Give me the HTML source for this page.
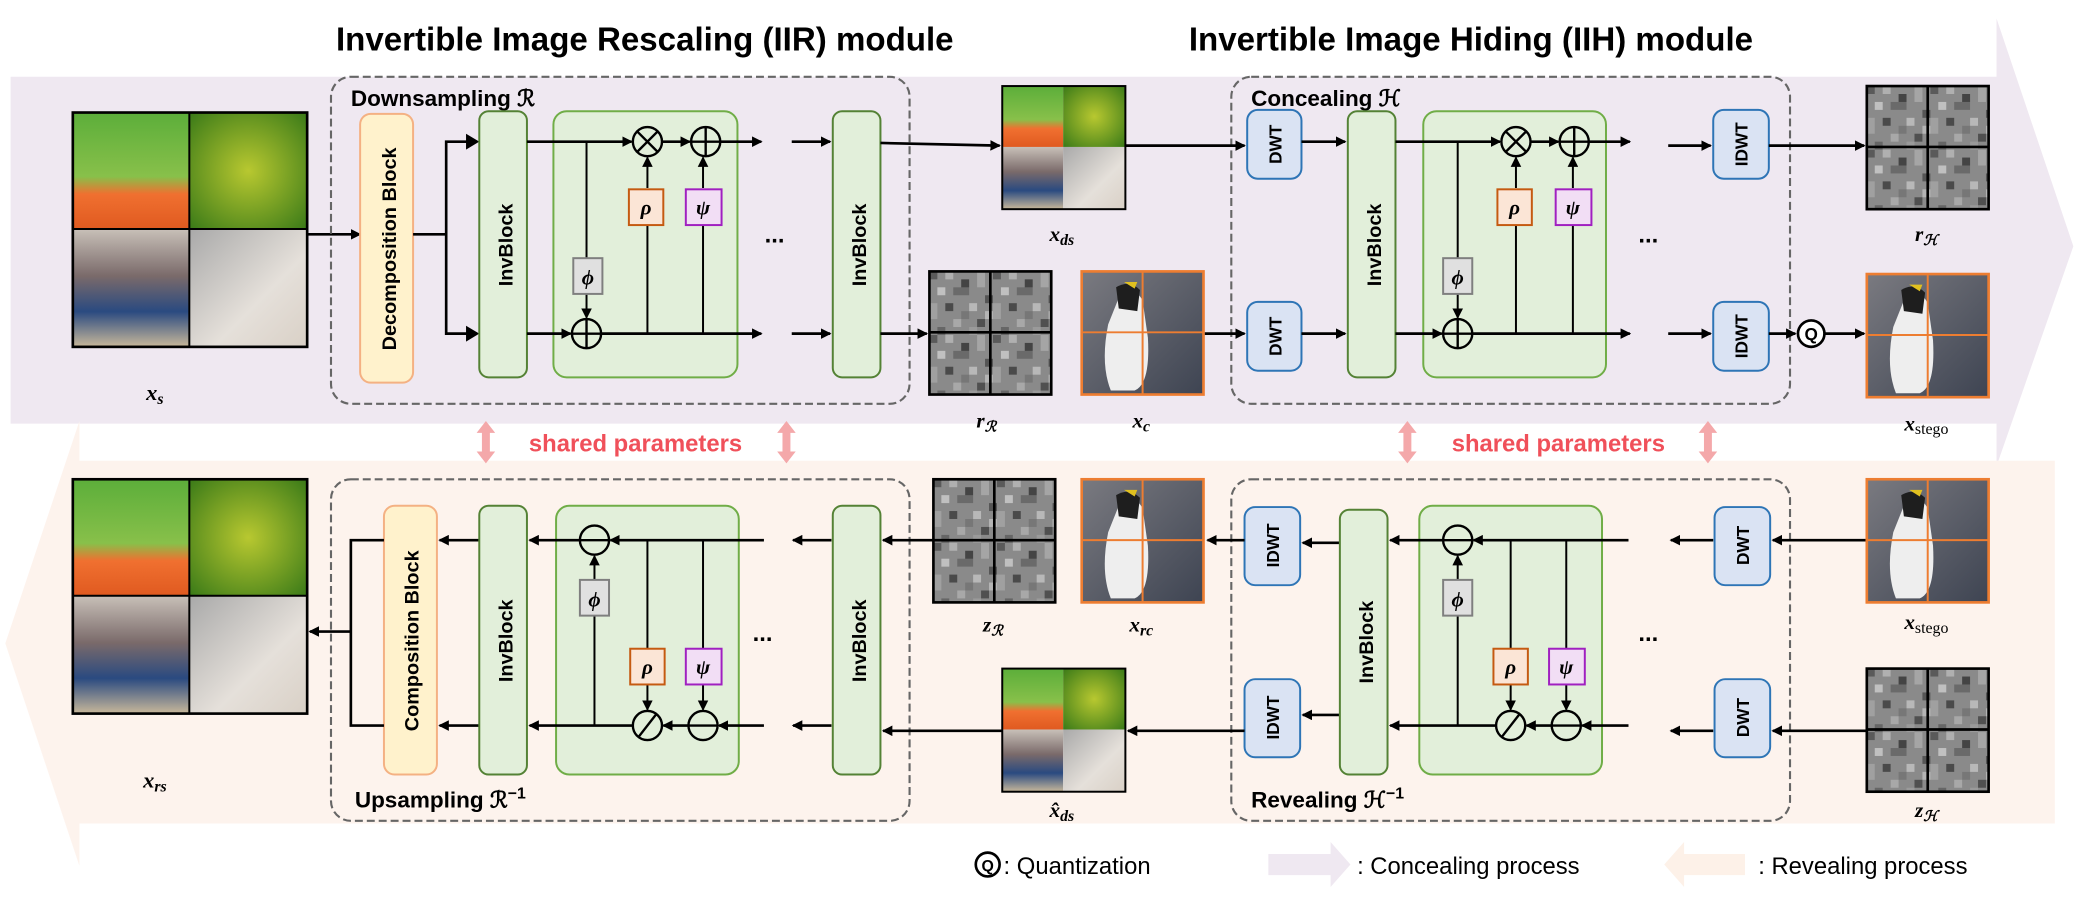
<!DOCTYPE html>
<html><head><meta charset="utf-8"><style>
html,body{margin:0;padding:0;background:#fff}
svg{display:block}
text{font-family:"Liberation Sans Narrow","Liberation Sans",sans-serif}
.t{font-weight:bold}
.v{font-family:"Liberation Sans",sans-serif;font-weight:bold}
.m{font-family:"Liberation Serif",serif;font-style:italic;font-weight:bold}
</style></head><body>
<svg width="2076" height="902" viewBox="0 0 1568 681.3" preserveAspectRatio="none" xmlns="http://www.w3.org/2000/svg">
<defs>
<marker id="a" markerWidth="8" markerHeight="8" refX="7" refY="4" orient="auto" markerUnits="userSpaceOnUse"><path d="M0,0 L8,4 L0,8 z" fill="#000"/></marker>
<marker id="a2" markerWidth="10" markerHeight="10" refX="9" refY="5" orient="auto" markerUnits="userSpaceOnUse"><path d="M0,0 L10,5 L0,10 z" fill="#000"/></marker>
<pattern id="nz" width="48" height="48" patternUnits="userSpaceOnUse">
<rect width="48" height="48" fill="#8a8a8a"/>
<rect x="0" y="0" width="6" height="6" fill="#5a5a5a"/><rect x="12" y="0" width="6" height="6" fill="#b0b0b0"/><rect x="24" y="6" width="6" height="6" fill="#444"/><rect x="36" y="0" width="6" height="12" fill="#a5a5a5"/>
<rect x="6" y="12" width="6" height="6" fill="#c0c0c0"/><rect x="18" y="12" width="12" height="6" fill="#6a6a6a"/><rect x="42" y="18" width="6" height="6" fill="#555"/><rect x="0" y="24" width="6" height="12" fill="#a0a0a0"/>
<rect x="12" y="24" width="6" height="6" fill="#4a4a4a"/><rect x="30" y="24" width="6" height="6" fill="#b8b8b8"/><rect x="18" y="36" width="6" height="6" fill="#a8a8a8"/><rect x="36" y="36" width="6" height="6" fill="#505050"/>
<rect x="6" y="42" width="6" height="6" fill="#666"/><rect x="30" y="42" width="6" height="6" fill="#9a9a9a"/><rect x="42" y="30" width="6" height="6" fill="#b5b5b5"/><rect x="24" y="30" width="6" height="6" fill="#777"/>
</pattern>
<linearGradient id="pl" x1="0" y1="0" x2="0" y2="1"><stop offset="0" stop-color="#5cae3a"/><stop offset="0.55" stop-color="#88c04a"/><stop offset="0.7" stop-color="#f07030"/><stop offset="1" stop-color="#e05a20"/></linearGradient>
<radialGradient id="lm" cx="0.5" cy="0.5" r="0.7"><stop offset="0" stop-color="#b8c830"/><stop offset="1" stop-color="#3a7a18"/></radialGradient>
<linearGradient id="pp" x1="0" y1="0" x2="0" y2="1"><stop offset="0" stop-color="#c8c0b8"/><stop offset="0.4" stop-color="#7a6a6a"/><stop offset="0.7" stop-color="#2a4a80"/><stop offset="1" stop-color="#c8b89a"/></linearGradient>
<linearGradient id="wf" x1="0" y1="0" x2="1" y2="1"><stop offset="0" stop-color="#a9a9a9"/><stop offset="0.6" stop-color="#e5e0da"/><stop offset="1" stop-color="#d9d0c6"/></linearGradient>
<linearGradient id="rk" x1="0" y1="0" x2="1" y2="1"><stop offset="0" stop-color="#7a7a80"/><stop offset="1" stop-color="#3e4452"/></linearGradient>
<g id="col">
<rect x="0" y="0" width="88" height="88" fill="url(#pl)"/><rect x="88" y="0" width="89" height="88" fill="url(#lm)"/>
<rect x="0" y="88" width="88" height="89" fill="url(#pp)"/><rect x="88" y="88" width="89" height="89" fill="url(#wf)"/>
<line x1="88" y1="0" x2="88" y2="177" stroke="#000" stroke-width="1.5"/><line x1="0" y1="88" x2="177" y2="88" stroke="#000" stroke-width="1.5"/>
<rect x="0" y="0" width="177" height="177" fill="none" stroke="#000" stroke-width="2"/></g>
<g id="scol">
<rect x="0" y="0" width="46" height="46" fill="url(#pl)"/><rect x="46" y="0" width="47" height="46" fill="url(#lm)"/>
<rect x="0" y="46" width="46" height="47" fill="url(#pp)"/><rect x="46" y="46" width="47" height="47" fill="url(#wf)"/>
<rect x="0" y="0" width="93" height="93" fill="none" stroke="#000" stroke-width="1.5"/></g>
<g id="noise"><rect x="0" y="0" width="92" height="93" fill="url(#nz)"/>
<line x1="46" y1="0" x2="46" y2="93" stroke="#000" stroke-width="2"/><line x1="0" y1="46" x2="92" y2="46" stroke="#000" stroke-width="2"/>
<rect x="0" y="0" width="92" height="93" fill="none" stroke="#000" stroke-width="2"/></g>
<g id="peng"><rect x="0" y="0" width="92" height="93" fill="url(#rk)"/>
<path d="M28,20 Q40,10 46,22 L50,50 Q52,85 40,90 L22,90 Q14,70 20,40 Z" fill="#eeeeee"/><path d="M26,12 Q36,6 44,14 L42,30 L28,28 Z" fill="#1e1e1e"/><path d="M32,8 l10,0 l-2,5 z" fill="#e0c020"/>
<line x1="46" y1="0" x2="46" y2="93" stroke="#ed7d31" stroke-width="1.5"/><line x1="0" y1="46" x2="92" y2="46" stroke="#ed7d31" stroke-width="1.5"/>
<rect x="0" y="0" width="92" height="93" fill="none" stroke="#ed7d31" stroke-width="2"/></g>
</defs>

<!-- bands -->
<path d="M8,58 L1508,58 L1508,14 L1566,186 L1508,352 L1508,320 L8,320 Z" fill="#efe8f1"/>
<path d="M1552,348 L60,348 L60,318 L4,486 L60,654 L60,622 L1552,622 Z" fill="#fdf3ed"/>

<text x="487" y="38" class="t" font-size="25" text-anchor="middle">Invertible Image Rescaling (IIR) module</text>
<text x="1111" y="38" class="t" font-size="25" text-anchor="middle">Invertible Image Hiding (IIH) module</text>

<!-- ===== TOP IIR ===== -->
<use href="#col" x="55" y="85"/>
<text x="117" y="302" class="m" font-size="17" text-anchor="middle">x<tspan font-size="12" dy="3">s</tspan></text>
<line x1="232" y1="177" x2="272" y2="177" stroke="#000" stroke-width="2" marker-end="url(#a)"/>
<rect x="250" y="58" width="437" height="247" rx="15" fill="none" stroke="#666" stroke-width="1.6" stroke-dasharray="6,3"/>
<text x="265" y="80" class="t" font-size="17">Downsampling ℛ</text>
<rect x="272" y="86" width="40" height="203" rx="8" fill="#fff2cc" stroke="#f4b183" stroke-width="1.5"/>
<text transform="translate(299,188) rotate(-90)" class="v" font-size="15" text-anchor="middle">Decomposition Block</text>
<path d="M312,177 H337 V107 H360 M337,177 V252 H360" fill="none" stroke="#000" stroke-width="2"/>
<path d="M352,101 l10,6 l-10,6z M352,246 l10,6 l-10,6z" fill="#000"/>
<rect x="362" y="84" width="36" height="201" rx="7" fill="#e2efda" stroke="#548235" stroke-width="1.5"/>
<text transform="translate(387,185) rotate(-90)" class="v" font-size="15" text-anchor="middle">InvBlock</text>
<rect x="418" y="84" width="139" height="201" rx="10" fill="#e2efda" stroke="#70ad47" stroke-width="1.5"/>
<g stroke="#000" stroke-width="2" fill="none">
<line x1="398" y1="107" x2="477" y2="107" marker-end="url(#a)"/>
<line x1="500" y1="107" x2="521" y2="107" marker-end="url(#a)"/>
<line x1="544" y1="107" x2="575" y2="107" marker-end="url(#a)"/>
<line x1="398" y1="252" x2="431" y2="252" marker-end="url(#a)"/>
<line x1="454" y1="252" x2="575" y2="252" marker-end="url(#a)"/>
<line x1="443" y1="107" x2="443" y2="195" stroke-width="1.5"/>
<line x1="443" y1="222" x2="443" y2="240" stroke-width="1.5" marker-end="url(#a)"/>
<line x1="489" y1="252" x2="489" y2="170" stroke-width="1.5"/>
<line x1="489" y1="142" x2="489" y2="119" stroke-width="1.5" marker-end="url(#a)"/>
<line x1="531" y1="252" x2="531" y2="170" stroke-width="1.5"/>
<line x1="531" y1="142" x2="531" y2="119" stroke-width="1.5" marker-end="url(#a)"/>
<circle cx="489" cy="107" r="11" stroke-width="1.8"/><path d="M481,99 L497,115 M497,99 L481,115" stroke-width="1.8"/>
<circle cx="533" cy="107" r="11" stroke-width="1.8"/><path d="M522,107 H544 M533,96 V118" stroke-width="1.8"/>
<circle cx="443" cy="252" r="11" stroke-width="1.8"/><path d="M432,252 H454 M443,241 V263" stroke-width="1.8"/>
</g>
<rect x="433" y="195" width="22" height="27" fill="#e0e0e0" stroke="#7f7f7f" stroke-width="1.5"/><text x="444" y="215" class="m" font-size="16" text-anchor="middle" font-weight="normal">ϕ</text>
<rect x="475" y="143" width="26" height="27" fill="#fbe5d6" stroke="#c55a11" stroke-width="1.5"/><text x="488" y="162" class="m" font-size="16" text-anchor="middle" font-weight="normal">ρ</text>
<rect x="518" y="143" width="27" height="27" fill="#f2def5" stroke="#a020c0" stroke-width="1.5"/><text x="531" y="162" class="m" font-size="16" text-anchor="middle" font-weight="normal">ψ</text>
<text x="585" y="183" class="t" font-size="18" text-anchor="middle">...</text>
<line x1="598" y1="107" x2="627" y2="107" stroke="#000" stroke-width="2" marker-end="url(#a)"/>
<line x1="598" y1="252" x2="627" y2="252" stroke="#000" stroke-width="2" marker-end="url(#a)"/>
<rect x="629" y="84" width="36" height="201" rx="7" fill="#e2efda" stroke="#548235" stroke-width="1.5"/>
<text transform="translate(654,185) rotate(-90)" class="v" font-size="15" text-anchor="middle">InvBlock</text>
<line x1="665" y1="108" x2="755" y2="110" stroke="#000" stroke-width="2" marker-end="url(#a)"/>
<line x1="665" y1="252" x2="700" y2="252" stroke="#000" stroke-width="2" marker-end="url(#a)"/>
<use href="#scol" x="757" y="65"/>
<text x="802" y="182" class="m" font-size="16" text-anchor="middle">x<tspan font-size="12" dy="3">ds</tspan></text>
<use href="#noise" x="702" y="205"/>
<text x="745" y="323" class="m" font-size="16" text-anchor="middle">r<tspan font-size="11" dy="3">ℛ</tspan></text>
<use href="#peng" x="817" y="205"/>
<text x="862" y="323" class="m" font-size="16" text-anchor="middle">x<tspan font-size="12" dy="3">c</tspan></text>

<!-- ===== TOP IIH ===== -->
<rect x="930" y="58" width="422" height="247" rx="15" fill="none" stroke="#666" stroke-width="1.6" stroke-dasharray="6,3"/>
<text x="945" y="80" class="t" font-size="17">Concealing ℋ</text>
<line x1="850" y1="110" x2="940" y2="110" stroke="#000" stroke-width="2" marker-end="url(#a)"/>
<line x1="910" y1="252" x2="940" y2="252" stroke="#000" stroke-width="2" marker-end="url(#a)"/>
<rect x="942" y="83" width="41" height="52" rx="8" fill="#dae3f3" stroke="#2e75b6" stroke-width="1.5"/><text transform="translate(968,109) rotate(-90)" class="v" font-size="13" text-anchor="middle">DWT</text>
<rect x="942" y="228" width="41" height="52" rx="8" fill="#dae3f3" stroke="#2e75b6" stroke-width="1.5"/><text transform="translate(968,254) rotate(-90)" class="v" font-size="13" text-anchor="middle">DWT</text>
<line x1="983" y1="107" x2="1016" y2="107" stroke="#000" stroke-width="2" marker-end="url(#a)"/>
<line x1="983" y1="252" x2="1016" y2="252" stroke="#000" stroke-width="2" marker-end="url(#a)"/>
<rect x="1018" y="84" width="36" height="201" rx="7" fill="#e2efda" stroke="#548235" stroke-width="1.5"/>
<text transform="translate(1043,185) rotate(-90)" class="v" font-size="15" text-anchor="middle">InvBlock</text>
<rect x="1075" y="84" width="138" height="201" rx="10" fill="#e2efda" stroke="#70ad47" stroke-width="1.5"/>
<g stroke="#000" stroke-width="2" fill="none">
<line x1="1054" y1="107" x2="1133" y2="107" marker-end="url(#a)"/>
<line x1="1156" y1="107" x2="1177" y2="107" marker-end="url(#a)"/>
<line x1="1200" y1="107" x2="1231" y2="107" marker-end="url(#a)"/>
<line x1="1054" y1="252" x2="1089" y2="252" marker-end="url(#a)"/>
<line x1="1112" y1="252" x2="1231" y2="252" marker-end="url(#a)"/>
<line x1="1101" y1="107" x2="1101" y2="195" stroke-width="1.5"/>
<line x1="1101" y1="222" x2="1101" y2="240" stroke-width="1.5" marker-end="url(#a)"/>
<line x1="1145" y1="252" x2="1145" y2="170" stroke-width="1.5"/>
<line x1="1145" y1="142" x2="1145" y2="119" stroke-width="1.5" marker-end="url(#a)"/>
<line x1="1188" y1="252" x2="1188" y2="170" stroke-width="1.5"/>
<line x1="1188" y1="142" x2="1188" y2="119" stroke-width="1.5" marker-end="url(#a)"/>
<circle cx="1145" cy="107" r="11" stroke-width="1.8"/><path d="M1137,99 L1153,115 M1153,99 L1137,115" stroke-width="1.8"/>
<circle cx="1189" cy="107" r="11" stroke-width="1.8"/><path d="M1178,107 H1200 M1189,96 V118" stroke-width="1.8"/>
<circle cx="1101" cy="252" r="11" stroke-width="1.8"/><path d="M1090,252 H1112 M1101,241 V263" stroke-width="1.8"/>
</g>
<rect x="1090" y="195" width="22" height="27" fill="#e0e0e0" stroke="#7f7f7f" stroke-width="1.5"/><text x="1101" y="215" class="m" font-size="16" text-anchor="middle" font-weight="normal">ϕ</text>
<rect x="1131" y="143" width="26" height="27" fill="#fbe5d6" stroke="#c55a11" stroke-width="1.5"/><text x="1144" y="162" class="m" font-size="16" text-anchor="middle" font-weight="normal">ρ</text>
<rect x="1175" y="143" width="27" height="27" fill="#f2def5" stroke="#a020c0" stroke-width="1.5"/><text x="1188" y="162" class="m" font-size="16" text-anchor="middle" font-weight="normal">ψ</text>
<text x="1245" y="183" class="t" font-size="18" text-anchor="middle">...</text>
<line x1="1260" y1="110" x2="1292" y2="110" stroke="#000" stroke-width="2" marker-end="url(#a)"/>
<line x1="1260" y1="252" x2="1292" y2="252" stroke="#000" stroke-width="2" marker-end="url(#a)"/>
<rect x="1294" y="83" width="42" height="52" rx="8" fill="#dae3f3" stroke="#2e75b6" stroke-width="1.5"/><text transform="translate(1320,109) rotate(-90)" class="v" font-size="13" text-anchor="middle">IDWT</text>
<rect x="1294" y="228" width="42" height="52" rx="8" fill="#dae3f3" stroke="#2e75b6" stroke-width="1.5"/><text transform="translate(1320,254) rotate(-90)" class="v" font-size="13" text-anchor="middle">IDWT</text>
<line x1="1336" y1="110" x2="1408" y2="110" stroke="#000" stroke-width="2" marker-end="url(#a)"/>
<line x1="1336" y1="252" x2="1356" y2="252" stroke="#000" stroke-width="2" marker-end="url(#a)"/>
<circle cx="1368" cy="252" r="10" fill="#fff" stroke="#000" stroke-width="2"/><text x="1368" y="257" class="v" font-size="13" text-anchor="middle">Q</text>
<line x1="1378" y1="252" x2="1408" y2="252" stroke="#000" stroke-width="2" marker-end="url(#a)"/>
<use href="#noise" x="1410" y="65"/>
<text x="1455" y="182" class="m" font-size="16" text-anchor="middle">r<tspan font-size="11" dy="3">ℋ</tspan></text>
<use href="#peng" x="1410" y="207"/>
<text x="1455" y="325" class="m" font-size="16" text-anchor="middle">x<tspan font-size="12" dy="3" font-style="normal" font-weight="normal">stego</tspan></text>

<!-- shared params -->
<g fill="#f4a8aa">
<path d="M367,318 l7,9 h-4 v14 h4 l-7,9 l-7,-9 h4 v-14 h-4z"/><path d="M594,318 l7,9 h-4 v14 h4 l-7,9 l-7,-9 h4 v-14 h-4z"/>
<path d="M1063,318 l7,9 h-4 v14 h4 l-7,9 l-7,-9 h4 v-14 h-4z"/><path d="M1290,318 l7,9 h-4 v14 h4 l-7,9 l-7,-9 h4 v-14 h-4z"/>
</g>
<text x="480" y="341" class="t" font-size="18" fill="#f0505a" text-anchor="middle">shared parameters</text>
<text x="1177" y="341" class="t" font-size="18" fill="#f0505a" text-anchor="middle">shared parameters</text>

<!-- ===== BOTTOM IIR ===== -->
<use href="#col" x="55" y="362"/>
<text x="117" y="595" class="m" font-size="17" text-anchor="middle">x<tspan font-size="12" dy="3">rs</tspan></text>
<rect x="250" y="362" width="437" height="258" rx="15" fill="none" stroke="#666" stroke-width="1.6" stroke-dasharray="6,3"/>
<text x="268" y="610" class="t" font-size="17">Upsampling ℛ<tspan font-size="12" dy="-7">−1</tspan></text>
<rect x="290" y="382" width="40" height="203" rx="8" fill="#fff2cc" stroke="#f4b183" stroke-width="1.5"/>
<text transform="translate(316,484) rotate(-90)" class="v" font-size="15" text-anchor="middle">Composition Block</text>
<path d="M290,408 H265 V548 H290" fill="none" stroke="#000" stroke-width="2"/>
<line x1="265" y1="477" x2="234" y2="477" stroke="#000" stroke-width="2" marker-end="url(#a)"/>
<line x1="362" y1="408" x2="332" y2="408" stroke="#000" stroke-width="2" marker-end="url(#a)"/>
<line x1="362" y1="548" x2="332" y2="548" stroke="#000" stroke-width="2" marker-end="url(#a)"/>
<rect x="362" y="382" width="36" height="203" rx="7" fill="#e2efda" stroke="#548235" stroke-width="1.5"/>
<text transform="translate(387,484) rotate(-90)" class="v" font-size="15" text-anchor="middle">InvBlock</text>
<rect x="420" y="382" width="138" height="203" rx="10" fill="#e2efda" stroke="#70ad47" stroke-width="1.5"/>
<g stroke="#000" stroke-width="2" fill="none">
<line x1="577" y1="408" x2="461" y2="408" marker-end="url(#a)"/>
<line x1="438" y1="408" x2="400" y2="408" marker-end="url(#a)"/>
<line x1="577" y1="548" x2="543" y2="548" marker-end="url(#a)"/>
<line x1="520" y1="548" x2="501" y2="548" marker-end="url(#a)"/>
<line x1="478" y1="548" x2="400" y2="548" marker-end="url(#a)"/>
<line x1="449" y1="548" x2="449" y2="465" stroke-width="1.5"/>
<line x1="449" y1="438" x2="449" y2="420" stroke-width="1.5" marker-end="url(#a)"/>
<line x1="489" y1="408" x2="489" y2="490" stroke-width="1.5"/>
<line x1="489" y1="517" x2="489" y2="536" stroke-width="1.5" marker-end="url(#a)"/>
<line x1="531" y1="408" x2="531" y2="490" stroke-width="1.5"/>
<line x1="531" y1="517" x2="531" y2="536" stroke-width="1.5" marker-end="url(#a)"/>
<circle cx="449" cy="408" r="11" fill="#e2efda" stroke-width="1.8"/><line x1="438" y1="408" x2="460" y2="408" stroke-width="1.8"/>
<circle cx="489" cy="548" r="11" fill="#e2efda" stroke-width="1.8"/><line x1="482" y1="557" x2="496" y2="539" stroke-width="1.8"/>
<circle cx="531" cy="548" r="11" fill="#e2efda" stroke-width="1.8"/><line x1="520" y1="548" x2="542" y2="548" stroke-width="1.8"/>
</g>
<rect x="438" y="438" width="22" height="27" fill="#e0e0e0" stroke="#7f7f7f" stroke-width="1.5"/><text x="449" y="458" class="m" font-size="16" text-anchor="middle" font-weight="normal">ϕ</text>
<rect x="476" y="490" width="26" height="27" fill="#fbe5d6" stroke="#c55a11" stroke-width="1.5"/><text x="489" y="509" class="m" font-size="16" text-anchor="middle" font-weight="normal">ρ</text>
<rect x="518" y="490" width="27" height="27" fill="#f2def5" stroke="#a020c0" stroke-width="1.5"/><text x="531" y="509" class="m" font-size="16" text-anchor="middle" font-weight="normal">ψ</text>
<text x="576" y="484" class="t" font-size="18" text-anchor="middle">...</text>
<line x1="628" y1="408" x2="599" y2="408" stroke="#000" stroke-width="2" marker-end="url(#a)"/>
<line x1="628" y1="548" x2="599" y2="548" stroke="#000" stroke-width="2" marker-end="url(#a)"/>
<rect x="629" y="382" width="36" height="203" rx="7" fill="#e2efda" stroke="#548235" stroke-width="1.5"/>
<text transform="translate(654,484) rotate(-90)" class="v" font-size="15" text-anchor="middle">InvBlock</text>
<line x1="705" y1="408" x2="667" y2="408" stroke="#000" stroke-width="2" marker-end="url(#a)"/>
<line x1="757" y1="552" x2="667" y2="552" stroke="#000" stroke-width="2" marker-end="url(#a)"/>
<use href="#noise" x="705" y="362"/>
<text x="750" y="477" class="m" font-size="16" text-anchor="middle">z<tspan font-size="11" dy="3">ℛ</tspan></text>
<use href="#peng" x="817" y="362"/>
<text x="862" y="477" class="m" font-size="16" text-anchor="middle">x<tspan font-size="12" dy="3">rc</tspan></text>
<use href="#scol" x="757" y="505"/>
<text x="802" y="617" class="m" font-size="16" text-anchor="middle">x̂<tspan font-size="12" dy="3">ds</tspan></text>

<!-- ===== BOTTOM IIH ===== -->
<rect x="930" y="362" width="422" height="258" rx="15" fill="none" stroke="#666" stroke-width="1.6" stroke-dasharray="6,3"/>
<text x="945" y="610" class="t" font-size="17">Revealing ℋ<tspan font-size="12" dy="-7">−1</tspan></text>
<rect x="940" y="383" width="42" height="59" rx="8" fill="#dae3f3" stroke="#2e75b6" stroke-width="1.5"/><text transform="translate(966,412) rotate(-90)" class="v" font-size="13" text-anchor="middle">IDWT</text>
<rect x="940" y="513" width="42" height="59" rx="8" fill="#dae3f3" stroke="#2e75b6" stroke-width="1.5"/><text transform="translate(966,542) rotate(-90)" class="v" font-size="13" text-anchor="middle">IDWT</text>
<line x1="940" y1="408" x2="912" y2="408" stroke="#000" stroke-width="2" marker-end="url(#a)"/>
<line x1="940" y1="552" x2="852" y2="552" stroke="#000" stroke-width="2" marker-end="url(#a)"/>
<line x1="1012" y1="410" x2="984" y2="410" stroke="#000" stroke-width="2" marker-end="url(#a)"/>
<line x1="1012" y1="540" x2="984" y2="540" stroke="#000" stroke-width="2" marker-end="url(#a)"/>
<rect x="1012" y="385" width="36" height="200" rx="7" fill="#e2efda" stroke="#548235" stroke-width="1.5"/>
<text transform="translate(1037,485) rotate(-90)" class="v" font-size="15" text-anchor="middle">InvBlock</text>
<rect x="1072" y="382" width="138" height="203" rx="10" fill="#e2efda" stroke="#70ad47" stroke-width="1.5"/>
<g stroke="#000" stroke-width="2" fill="none">
<line x1="1230" y1="408" x2="1113" y2="408" marker-end="url(#a)"/>
<line x1="1090" y1="408" x2="1050" y2="408" marker-end="url(#a)"/>
<line x1="1230" y1="548" x2="1195" y2="548" marker-end="url(#a)"/>
<line x1="1172" y1="548" x2="1153" y2="548" marker-end="url(#a)"/>
<line x1="1130" y1="548" x2="1050" y2="548" marker-end="url(#a)"/>
<line x1="1101" y1="548" x2="1101" y2="465" stroke-width="1.5"/>
<line x1="1101" y1="438" x2="1101" y2="420" stroke-width="1.5" marker-end="url(#a)"/>
<line x1="1141" y1="408" x2="1141" y2="490" stroke-width="1.5"/>
<line x1="1141" y1="517" x2="1141" y2="536" stroke-width="1.5" marker-end="url(#a)"/>
<line x1="1183" y1="408" x2="1183" y2="490" stroke-width="1.5"/>
<line x1="1183" y1="517" x2="1183" y2="536" stroke-width="1.5" marker-end="url(#a)"/>
<circle cx="1101" cy="408" r="11" fill="#e2efda" stroke-width="1.8"/><line x1="1090" y1="408" x2="1112" y2="408" stroke-width="1.8"/>
<circle cx="1141" cy="548" r="11" fill="#e2efda" stroke-width="1.8"/><line x1="1134" y1="557" x2="1148" y2="539" stroke-width="1.8"/>
<circle cx="1183" cy="548" r="11" fill="#e2efda" stroke-width="1.8"/><line x1="1172" y1="548" x2="1194" y2="548" stroke-width="1.8"/>
</g>
<rect x="1090" y="438" width="22" height="27" fill="#e0e0e0" stroke="#7f7f7f" stroke-width="1.5"/><text x="1101" y="458" class="m" font-size="16" text-anchor="middle" font-weight="normal">ϕ</text>
<rect x="1128" y="490" width="26" height="27" fill="#fbe5d6" stroke="#c55a11" stroke-width="1.5"/><text x="1141" y="509" class="m" font-size="16" text-anchor="middle" font-weight="normal">ρ</text>
<rect x="1170" y="490" width="27" height="27" fill="#f2def5" stroke="#a020c0" stroke-width="1.5"/><text x="1183" y="509" class="m" font-size="16" text-anchor="middle" font-weight="normal">ψ</text>
<text x="1245" y="484" class="t" font-size="18" text-anchor="middle">...</text>
<line x1="1294" y1="408" x2="1262" y2="408" stroke="#000" stroke-width="2" marker-end="url(#a)"/>
<line x1="1294" y1="552" x2="1262" y2="552" stroke="#000" stroke-width="2" marker-end="url(#a)"/>
<rect x="1295" y="383" width="42" height="59" rx="8" fill="#dae3f3" stroke="#2e75b6" stroke-width="1.5"/><text transform="translate(1321,412) rotate(-90)" class="v" font-size="13" text-anchor="middle">DWT</text>
<rect x="1295" y="513" width="42" height="59" rx="8" fill="#dae3f3" stroke="#2e75b6" stroke-width="1.5"/><text transform="translate(1321,542) rotate(-90)" class="v" font-size="13" text-anchor="middle">DWT</text>
<line x1="1410" y1="408" x2="1339" y2="408" stroke="#000" stroke-width="2" marker-end="url(#a)"/>
<line x1="1410" y1="552" x2="1339" y2="552" stroke="#000" stroke-width="2" marker-end="url(#a)"/>
<use href="#peng" x="1410" y="362"/>
<text x="1455" y="475" class="m" font-size="16" text-anchor="middle">x<tspan font-size="12" dy="3" font-style="normal" font-weight="normal">stego</tspan></text>
<use href="#noise" x="1410" y="505"/>
<text x="1455" y="617" class="m" font-size="16" text-anchor="middle">z<tspan font-size="11" dy="3">ℋ</tspan></text>

<!-- legend -->
<circle cx="746" cy="653" r="9" fill="#fff" stroke="#000" stroke-width="2"/><text x="746" y="658" class="v" font-size="12" text-anchor="middle">Q</text>
<text x="758" y="660" font-size="18">: Quantization</text>
<path d="M958,645 H1005 V636 L1020,653 L1005,670 V661 H958 Z" fill="#efe8f1"/>
<text x="1025" y="660" font-size="18">: Concealing process</text>
<path d="M1318,645 H1272 V636 L1257,653 L1272,670 V661 H1318 Z" fill="#fdf1e8"/>
<text x="1328" y="660" font-size="18">: Revealing process</text>
</svg>
</body></html>
